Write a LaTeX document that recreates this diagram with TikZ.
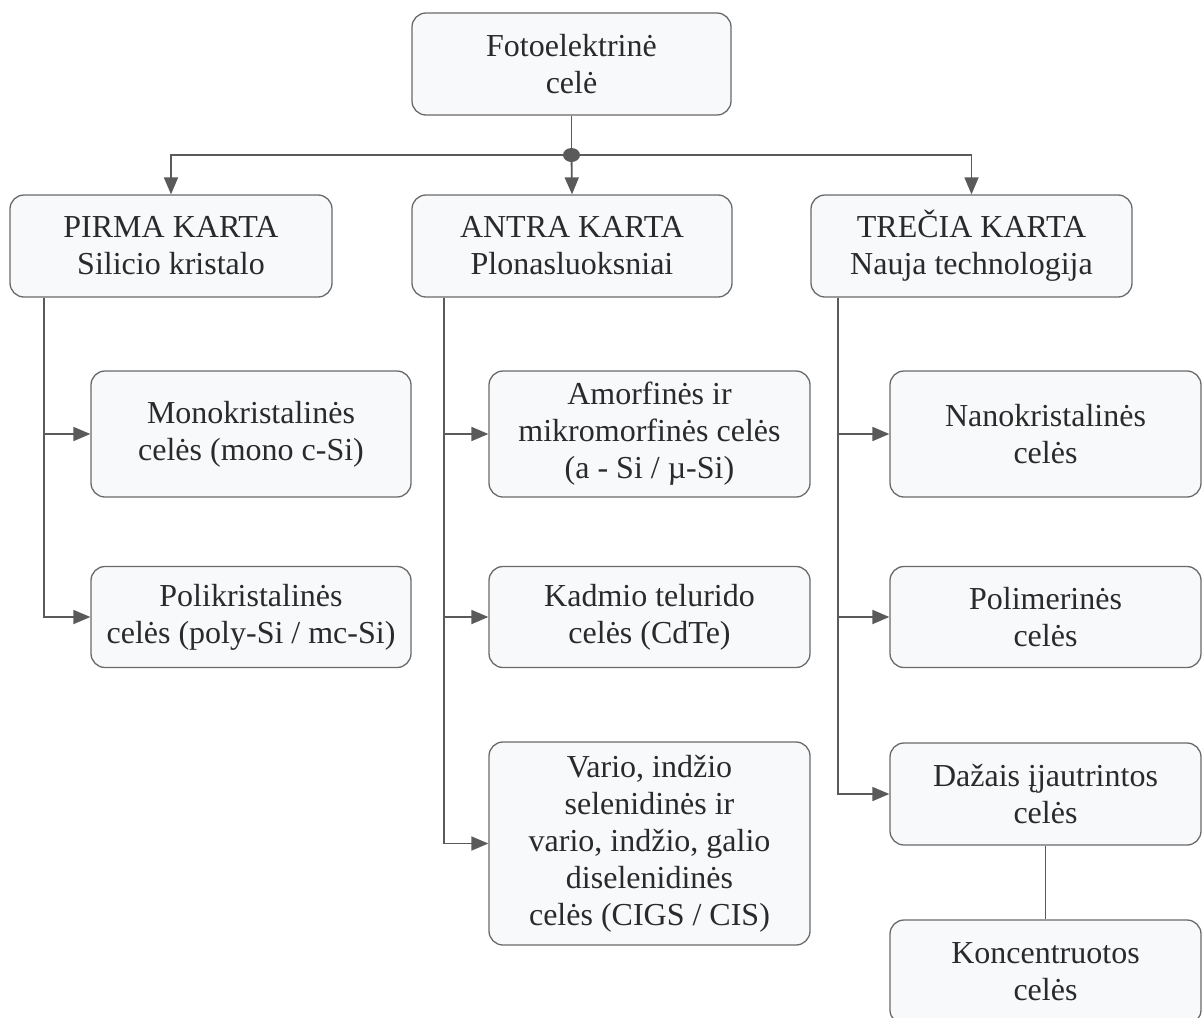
\documentclass[tikz,border=0pt]{standalone}
\usepackage{fontspec}
\setmainfont{Liberation Serif}
\usetikzlibrary{arrows.meta}
\definecolor{boxfill}{HTML}{F8F9FB}
\definecolor{boxline}{HTML}{6A6A6A}
\definecolor{connc}{HTML}{5A5A5A}
\definecolor{txt}{HTML}{2A2A2A}
\begin{document}
\begin{tikzpicture}[x=1pt,y=-1pt,
  box/.style={draw=boxline, fill=boxfill, line width=1.3pt, rounded corners=14pt,
    align=center, font=\fontsize{32}{37}\selectfont, text=txt, inner sep=0pt},
  conn/.style={draw=connc, line width=1.8pt},
  arr/.style={conn, -{Triangle[length=17pt,width=14pt]}}]
\useasboundingbox (0,0) rectangle (1203,1018);
\node[box, minimum width=319pt, minimum height=102pt] (top) at (571.5,64) {Fotoelektrinė\\celė};
\node[box, minimum width=322pt, minimum height=102pt] (pirma) at (171,246) {PIRMA KARTA\\Silicio kristalo};
\node[box, minimum width=320pt, minimum height=102pt] (antra) at (572,246) {ANTRA KARTA\\Plonasluoksniai};
\node[box, minimum width=321pt, minimum height=102pt] (trecia) at (971.5,246) {TREČIA KARTA\\Nauja technologija};
\node[box, minimum width=320pt, minimum height=126pt] (mono) at (251,434) {Monokristalinės\\celės (mono c-Si)};
\node[box, minimum width=320pt, minimum height=101pt] (poly) at (251,617) {Polikristalinės\\celės (poly-Si / mc-Si)};
\node[box, minimum width=321pt, minimum height=126pt] (amorf) at (649.5,434) {Amorfinės ir\\mikromorfinės celės\\(a - Si / µ-Si)};
\node[box, minimum width=321pt, minimum height=101pt] (kadmio) at (649.5,617) {Kadmio telurido\\celės (CdTe)};
\node[box, minimum width=321pt, minimum height=203pt] (vario) at (649.5,843.5) {Vario, indžio\\selenidinės ir\\vario, indžio, galio\\diselenidinės\\celės (CIGS / CIS)};
\node[box, minimum width=311pt, minimum height=126pt] (nano) at (1045.5,434) {Nanokristalinės\\celės};
\node[box, minimum width=311pt, minimum height=101pt] (polim) at (1045.5,617) {Polimerinės\\celės};
\node[box, minimum width=311pt, minimum height=102pt] (dazais) at (1045.5,794) {Dažais įjautrintos\\celės};
\node[box, minimum width=311pt, minimum height=104pt] (konc) at (1045.5,972) {Koncentruotos\\celės};
\coordinate (J) at (571.5,155);
\draw[conn] (top.south) -- (J);
\draw[arr] (J) -| (pirma.north);
\draw[arr] (J) -| (trecia.north);
\draw[arr] (J) -- (antra.north);
\fill[connc] (J) ellipse (8.5pt and 7pt);
\draw[arr] ([xshift=-127pt]pirma.south) |- (mono.west);
\draw[arr] ([xshift=-127pt]pirma.south) |- (poly.west);
\draw[arr] ([xshift=-128pt]antra.south) |- (amorf.west);
\draw[arr] ([xshift=-128pt]antra.south) |- (kadmio.west);
\draw[arr] ([xshift=-128pt]antra.south) |- (vario.west);
\draw[arr] ([xshift=-133.5pt]trecia.south) |- (nano.west);
\draw[arr] ([xshift=-133.5pt]trecia.south) |- (polim.west);
\draw[arr] ([xshift=-133.5pt]trecia.south) |- (dazais.west);
\draw[conn, line width=1.3pt] (dazais.south) -- (konc.north);
\end{tikzpicture}
\end{document}
